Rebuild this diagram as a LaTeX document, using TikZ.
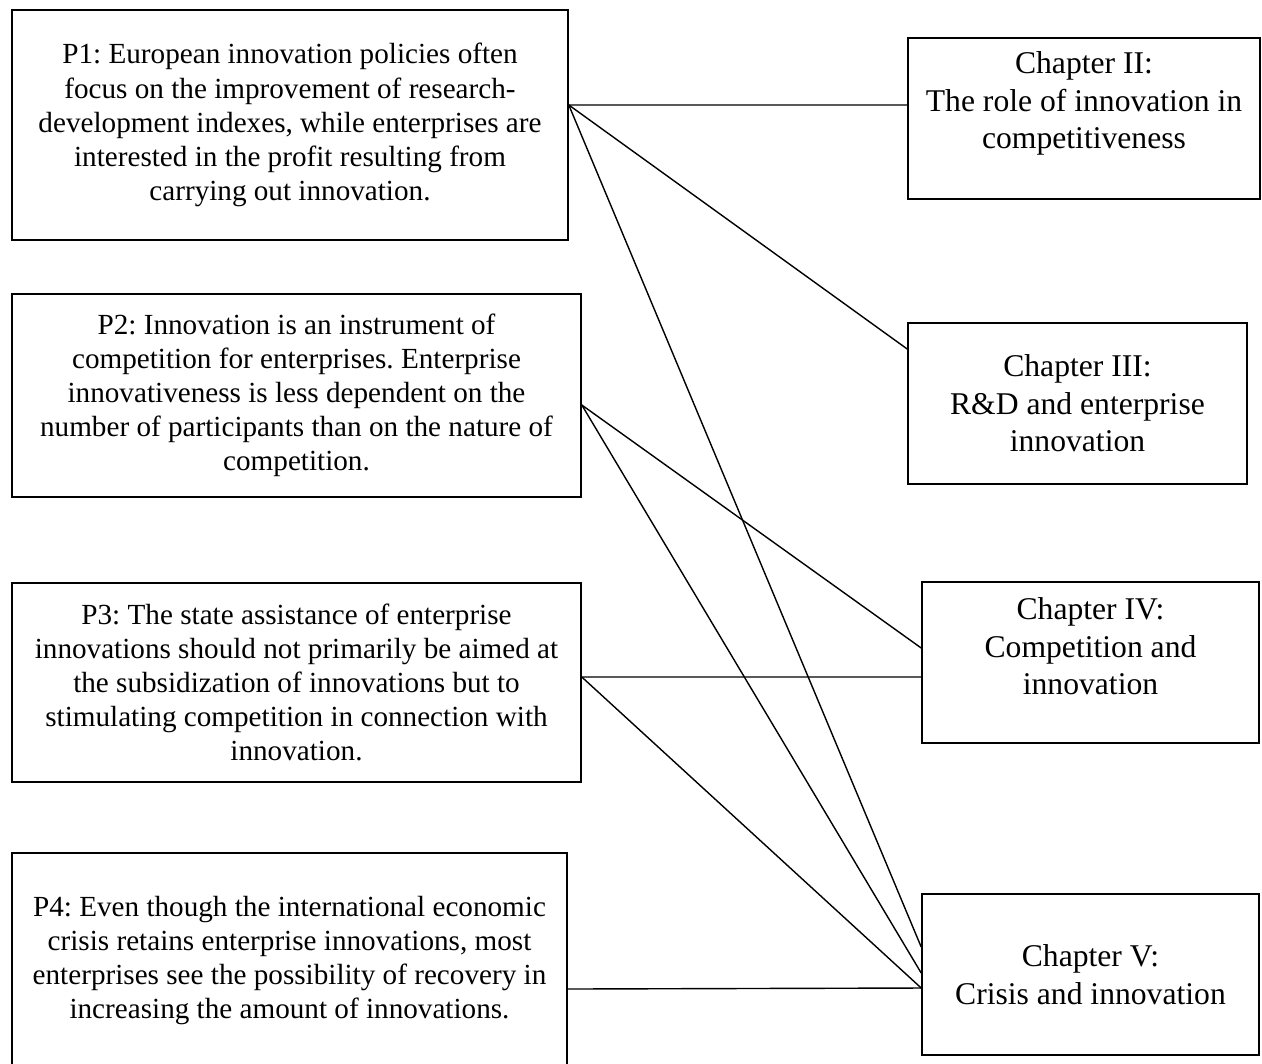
\documentclass[tikz,border=0pt]{standalone}
\usepackage{fontspec}
\setmainfont{Liberation Serif}
\usepackage{tikz}
\usetikzlibrary{positioning}
\frenchspacing
\def\propfont{\fontsize{16.6}{19.4}\selectfont}
\def\chapfont{\fontsize{18}{21.3}\selectfont}
\tikzset{
  propbox/.style={draw, line width=0.9pt, inner sep=0pt, align=center, font=\propfont},
  chapbox/.style={draw, line width=0.9pt, inner sep=0pt},
  chaptext/.style={align=center, font=\chapfont},
  link/.style={line width=0.8pt}
}
\begin{document}
\begin{tikzpicture}[x=0.2mm, y=-0.2mm]
    \useasboundingbox (0,0) rectangle (1262,1063);
    % propositions
    \node[propbox, minimum width=111.2mm, minimum height=46mm] (p1) at (290,125)
        {P1: European innovation policies often\\focus on the improvement of research-\\development indexes, while enterprises are\\interested in the profit resulting from\\carrying out innovation.};
    \node[propbox, minimum width=113.8mm, minimum height=40.6mm] (p2) at (296.5,395.5)
        {P2: Innovation is an instrument of\\competition for enterprises. Enterprise\\innovativeness is less dependent on the\\number of participants than on the nature of\\competition.};
    \node[propbox, minimum width=113.8mm, minimum height=39.8mm] (p3) at (296.5,682.5)
        {P3: The state assistance of enterprise\\innovations should not primarily be aimed at\\the subsidization of innovations but to\\stimulating competition in connection with\\innovation.};
    \node[propbox, minimum width=111mm, minimum height=43mm] (p4) at (289.5,960.5)
        {P4: Even though the international economic\\crisis retains enterprise innovations, most\\enterprises see the possibility of recovery in\\increasing the amount of innovations.};
    % chapters
    \node[chapbox, minimum width=70.4mm, minimum height=32.2mm] (ch2) at (1084,118.5) {};
    \node[chaptext] (ch2t) at ([yshift=3mm]ch2.center) {Chapter II:\\The role of innovation in\\competitiveness};
    \node[chapbox, minimum width=67.8mm, minimum height=32.2mm] (ch3) at (1077.5,403.5) {};
    \node[chaptext] (ch3t) at (ch3.center) {Chapter III:\\R\&D and enterprise\\innovation};
    \node[chapbox, minimum width=67.4mm, minimum height=32.2mm] (ch4) at (1090.5,662.5) {};
    \node[chaptext] (ch4t) at ([yshift=3.2mm]ch4.center) {Chapter IV:\\Competition and\\innovation};
    \node[chapbox, minimum width=67.4mm, minimum height=32.2mm] (ch5) at (1090.5,974.5) {};
    \node[chaptext] (ch5t) at (ch5.center) {Chapter V:\\Crisis and innovation};
    % end points on the box sides
    \coordinate (p1o) at ([yshift=4mm]p1.east);
    \coordinate (p2o) at ([yshift=-1.9mm]p2.east);
    \coordinate (p3o) at ([yshift=1.1mm]p3.east);
    \coordinate (p4o) at ([yshift=-5.7mm]p4.east);
    \coordinate (ch2i) at ([yshift=2.7mm]ch2.west);
    \coordinate (ch3i) at ([yshift=10.9mm]ch3.west);
    \coordinate (ch4a) at ([yshift=2.9mm]ch4.west);
    \coordinate (ch4b) at ([yshift=-2.9mm]ch4.west);
    \coordinate (ch5a) at ([yshift=5.5mm]ch5.west);
    \coordinate (ch5b) at ([yshift=0.3mm]ch5.west);
    \coordinate (ch5c) at ([yshift=-2.7mm]ch5.west);
    % links
    \draw[link] (p1o) -- (ch2i);
    \draw[link] (p1o) -- (ch3i);
    \draw[link] (p1o) -- (ch5a);
    \draw[link] (p2o) -- (ch4a);
    \draw[link] (p2o) -- (ch5b);
    \draw[link] (p3o) -- (ch4b);
    \draw[link] (p3o) -- (ch5c);
    \draw[link] (p4o) -- (ch5c);
\end{tikzpicture}
\end{document}
